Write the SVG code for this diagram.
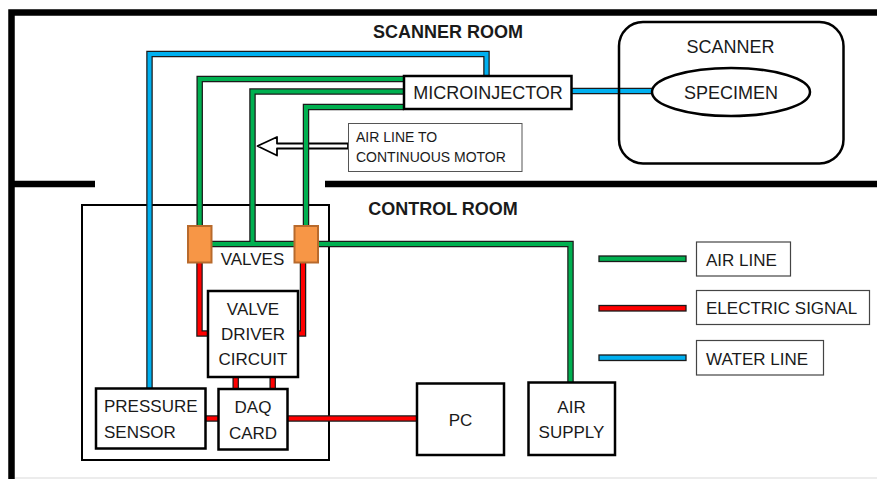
<svg xmlns="http://www.w3.org/2000/svg" width="877" height="479" viewBox="0 0 877 479">
<style>
text{font-family:"Liberation Sans",Arial,sans-serif;fill:#1a1a1a}
.t{font-size:17px}
.t18{font-size:18px}
.h{font-size:18px;font-weight:bold}
.lbl{font-size:14px}
.box{fill:#fff;stroke:#000;stroke-width:2.5}
.leg{fill:#fff;stroke:#444;stroke-width:1.2}
.wall{stroke:#000;stroke-width:6.5;fill:none}
.ol{fill:none;stroke:#1a1a1a;stroke-width:6.5;stroke-linejoin:miter}
.g{fill:none;stroke:#00b050;stroke-width:4}
.r{fill:none;stroke:#ff0000;stroke-width:4}
.b{fill:none;stroke:#00b0f0;stroke-width:4}
.valve{fill:#f79646;stroke:#b86a2c;stroke-width:2}
</style>
<rect width="877" height="479" fill="#fff"/>
<g id="walls">
<path class="wall" d="M11.5,479 V12.5 H877"/>
<path class="wall" d="M11.5,184 H95 M325,184 H877"/>
<line x1="15" y1="478" x2="877" y2="478" stroke="#e6e6e6" stroke-width="1.5"/>
<text class="h" x="448" y="38" text-anchor="middle">SCANNER ROOM</text>
<text class="h" x="443" y="215" text-anchor="middle">CONTROL ROOM</text>
</g>
<g id="control-room-box">
<rect x="82" y="205" width="247" height="255" fill="none" stroke="#000" stroke-width="2"/>
</g>
<g id="arrow-note">
<polygon points="348,143.5 277,143.5 277,137 257.5,146 277,155.5 277,148.5 348,148.5" fill="#fff" stroke="#000" stroke-width="1.8" stroke-linejoin="round"/>
<rect x="348.5" y="123.5" width="173.5" height="48" fill="#fff" stroke="#555" stroke-width="1"/>
<text class="lbl" x="356" y="142">AIR LINE TO</text>
<text class="lbl" x="356" y="162">CONTINUOUS MOTOR</text>
</g>
<g id="connectors">
<g id="outlines">
<path class="ol" d="M149.5,388 V54 H486.5 V76"/>
<path class="ol" d="M571,91 H653"/>
<path class="ol" d="M404,79 H199.7 V227"/>
<path class="ol" d="M404,91.5 H252.5 V244"/>
<path class="ol" d="M404,107 H306 V227"/>
<path class="ol" d="M211,244 H570.5 V383"/>
<path class="ol" d="M199.5,262 V333.5 H209"/>
<path class="ol" d="M303,262 V333.5 H297"/>
<path class="ol" d="M235.7,376 V390 M272.7,376 V390"/>
<path class="ol" d="M205,418.5 H219 M286,418.5 H418"/>
</g>
<g id="colors">
<path class="b" d="M149.5,388 V54 H486.5 V76"/>
<path class="b" d="M571,91 H653"/>
<path class="g" d="M404,79 H199.7 V227"/>
<path class="g" d="M404,91.5 H252.5 V244"/>
<path class="g" d="M404,107 H306 V227"/>
<path class="g" d="M211,244 H570.5 V383"/>
<path class="r" d="M199.5,262 V333.5 H209"/>
<path class="r" d="M303,262 V333.5 H297"/>
<path class="r" d="M235.7,376 V390 M272.7,376 V390"/>
<path class="r" d="M205,418.5 H219 M286,418.5 H418"/>
</g>
</g>
<g id="scanner">
<rect x="619" y="22" width="224.5" height="141.5" rx="24" fill="none" stroke="#000" stroke-width="2.5"/>
<text class="t18" x="730.5" y="52.5" text-anchor="middle">SCANNER</text>
</g>
<g id="specimen">
<ellipse cx="731" cy="92" rx="79" ry="24" fill="#fff" stroke="#000" stroke-width="2.5"/>
<text class="t18" x="731" y="99" text-anchor="middle">SPECIMEN</text>
</g>
<g id="microinjector">
<rect class="box" x="404" y="76" width="167.5" height="33"/>
<text class="t18" x="488" y="98.5" text-anchor="middle">MICROINJECTOR</text>
</g>
<g id="valves">
<rect class="valve" x="188" y="226" width="23.5" height="36.5"/>
<rect class="valve" x="294.5" y="226" width="23.5" height="36.5"/>
<text class="t" x="252.5" y="265" text-anchor="middle">VALVES</text>
</g>
<g id="valve-driver">
<rect class="box" x="208" y="291" width="90" height="86"/>
<text class="t" x="253" y="314.5" text-anchor="middle">VALVE</text>
<text class="t" x="253" y="340" text-anchor="middle">DRIVER</text>
<text class="t" x="253" y="365" text-anchor="middle">CIRCUIT</text>
</g>
<g id="pressure-sensor">
<rect class="box" x="96" y="388.5" width="109.5" height="60"/>
<text class="t" x="104" y="412">PRESSURE</text>
<text class="t" x="104" y="437.5">SENSOR</text>
</g>
<g id="daq-card">
<rect class="box" x="218.5" y="389" width="69" height="60.5"/>
<text class="t" x="253" y="412.5" text-anchor="middle">DAQ</text>
<text class="t" x="253" y="438.5" text-anchor="middle">CARD</text>
</g>
<g id="pc">
<rect class="box" x="417" y="383.5" width="87" height="71.5"/>
<text class="t" x="460.5" y="426" text-anchor="middle">PC</text>
</g>
<g id="air-supply">
<rect class="box" x="528.5" y="382.5" width="86.5" height="72.5"/>
<text class="t" x="571.5" y="412.5" text-anchor="middle">AIR</text>
<text class="t" x="571.5" y="438" text-anchor="middle">SUPPLY</text>
</g>
<g id="legend">
<rect x="599" y="256" width="87" height="5.5" fill="#00b050" stroke="#1a1a1a" stroke-width="1.3"/>
<rect x="599" y="305.5" width="87" height="5.5" fill="#ff0000" stroke="#1a1a1a" stroke-width="1.3"/>
<rect x="599" y="355" width="87" height="5.5" fill="#00b0f0" stroke="#1a1a1a" stroke-width="1.3"/>
<rect class="leg" x="696.5" y="242" width="94" height="34"/>
<text class="t" x="706" y="266">AIR LINE</text>
<rect class="leg" x="696.5" y="290.5" width="173" height="34"/>
<text class="t" x="706" y="314">ELECTRIC SIGNAL</text>
<rect class="leg" x="696.5" y="340.5" width="127" height="34.5"/>
<text class="t" x="706" y="364.5">WATER LINE</text>
</g>
</svg>
